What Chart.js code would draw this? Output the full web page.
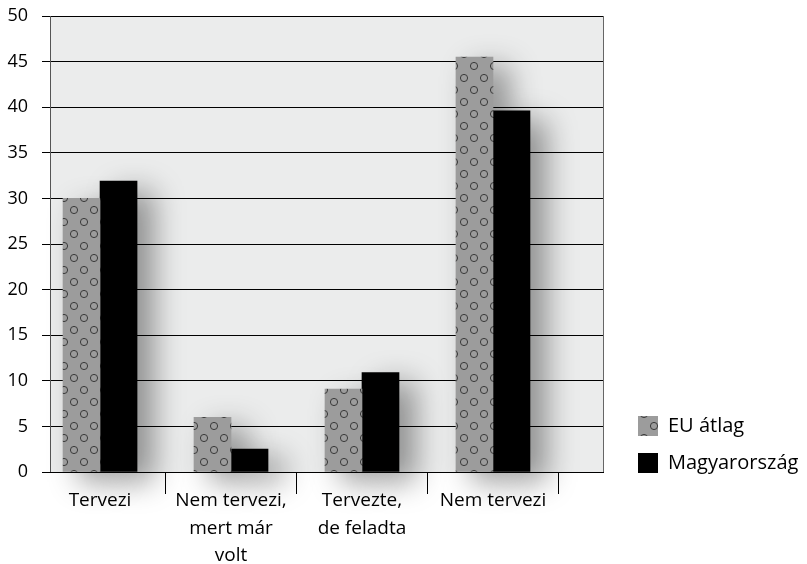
<!DOCTYPE html>
<html>
<head>
<meta charset="utf-8">
<script src="https://cdn.jsdelivr.net/npm/chart.js@4.4.1/dist/chart.umd.min.js"></script>
<style>
  html, body { margin: 0; padding: 0; background: #fff; }
  #wrap { width: 807px; height: 564px; }
</style>
</head>
<body>
<div id="wrap"><canvas id="chart"></canvas></div>
<script>
const categories = ["Tervezi", ["Nem tervezi,", "mert már", "volt"], ["Tervezte,", "de feladta"], "Nem tervezi"];
const seriesNames = ["EU átlag", "Magyarország"];
const euValues = [30, 6, 9.1, 45.5];
const huValues = [31.9, 2.5, 10.9, 39.6];
const yTicks = [0, 5, 10, 15, 20, 25, 30, 35, 40, 45, 50];

const FONT = "'Open Sans', 'Noto Sans', sans-serif";

// pottyos minta az EU oszlopokhoz
function dotPattern(ctx) {
  const c = document.createElement("canvas");
  c.width = 20;
  c.height = 24;
  const g = c.getContext("2d");
  g.fillStyle = "#9c9c9c";
  g.fillRect(0, 0, c.width, c.height);
  g.strokeStyle = "#3a3a3a";
  g.lineWidth = 1;
  [[4, 6], [14, 18]].forEach(([x, y]) => {
    g.beginPath();
    g.arc(x, y, 3.6, 0, Math.PI * 2);
    g.stroke();
  });
  return ctx.createPattern(c, "repeat");
}

const plotBg = {
  id: "plotBg",
  beforeDraw(chart) {
    const { ctx, chartArea: a } = chart;
    ctx.save();
    ctx.fillStyle = "#ebecec";
    ctx.fillRect(a.left, a.top, a.right - a.left, a.bottom - a.top);
    ctx.restore();
  }
};

const barShadow = {
  id: "barShadow",
  beforeDatasetsDraw(chart) {
    const ctx = chart.ctx;
    ctx.save();
    ctx.shadowColor = "rgba(0,0,0,0.4)";
    ctx.shadowBlur = 30;
    ctx.shadowOffsetX = 16;
    ctx.shadowOffsetY = 10;
  },
  afterDatasetsDraw(chart) {
    chart.ctx.restore();
  }
};

// jelmagyarazat a rajzterulet melle
const legendPlace = {
  id: "legendPlace",
  afterLayout(chart) {
    const lg = chart.legend;
    const a = chart.chartArea;
    lg.left = a.right + 18;
    lg.right = lg.left + lg.width;
    lg.top = a.top + 18;
    lg.bottom = a.bottom + 18;
  }
};

const canvas = document.getElementById("chart");
const ctx = canvas.getContext("2d");

new Chart(canvas, {
  type: "bar",
  data: {
    datasets: [
      {
        label: seriesNames[0],
        data: euValues.map((v, i) => ({ x: i, y: v })),
        backgroundColor: dotPattern(ctx),
        borderWidth: 0,
        barThickness: 37,
        clip: false
      },
      {
        label: seriesNames[1],
        data: huValues.map((v, i) => ({ x: i, y: v })),
        backgroundColor: "#000",
        borderWidth: 0,
        barThickness: 37,
        clip: false
      }
    ]
  },
  options: {
    responsive: true,
    maintainAspectRatio: false,
    animation: false,
    layout: { padding: { top: 16, left: 0, right: 0, bottom: 0 } },
    plugins: {
      legend: {
        position: "chartArea",
        align: "end",
        labels: {
          boxWidth: 20,
          boxHeight: 20,
          padding: 17,
          color: "#000",
          font: { family: FONT, size: 20 }
        }
      },
      tooltip: { enabled: false }
    },
    scales: {
      x: {
        type: "linear",
        offset: false,
        min: -0.382,
        max: 3.84,
        afterBuildTicks: s => {
          s.ticks = [0, 0.5, 1, 1.5, 2, 2.5, 3, 3.5].map(v => ({ value: v }));
        },
        afterFit: s => { s.height = 92; },
        grid: {
          offset: false,
          drawOnChartArea: false,
          tickLength: 22,
          color: c => (c.tick && c.tick.value % 1 !== 0) ? "#000" : "rgba(0,0,0,0)"
        },
        border: { display: true, color: "#000", z: 1 },
        ticks: {
          z: 1,
          autoSkip: false,
          maxRotation: 0,
          padding: -7,
          color: "#000",
          font: { family: FONT, size: 19, lineHeight: 1.45 },
          callback: v => Number.isInteger(v) ? categories[v] : ""
        }
      },
      y: {
        min: 0,
        max: 50,
        afterBuildTicks: s => { s.ticks = yTicks.map(v => ({ value: v })); },
        afterFit: s => { s.width = 50; s.paddingTop = 0; },
        grid: { color: "#000", tickColor: "#000", tickLength: 8, lineWidth: 1 },
        border: { display: true, color: "#555" },
        ticks: {
          padding: 14,
          color: "#000",
          font: { family: FONT, size: 18 }
        }
      },
      y2: {
        position: "right",
        min: 0,
        max: 50,
        afterFit: s => { s.width = 204; s.paddingTop = 0; },
        grid: { display: false },
        ticks: { display: false },
        border: { display: true, color: "#666" }
      }
    }
  },
  plugins: [plotBg, barShadow, legendPlace]
});
</script>
</body>
</html>
